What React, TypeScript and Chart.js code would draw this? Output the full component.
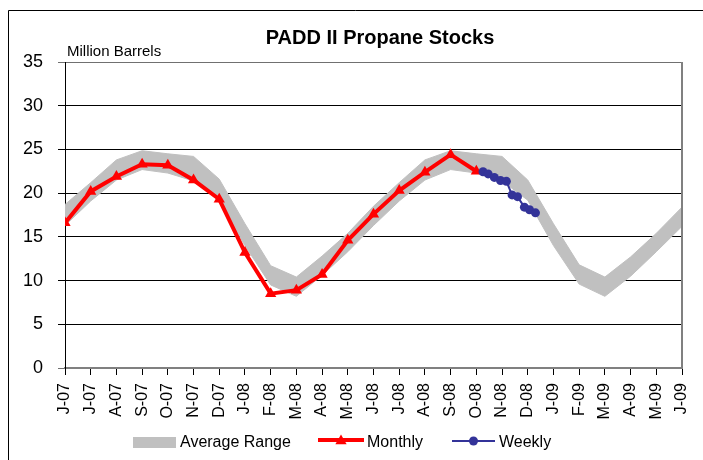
import React, { useEffect, useRef } from 'react';
import { Chart, registerables } from 'chart.js';

Chart.register(...registerables);

const FONT = '"Liberation Sans", Arial, Helvetica, sans-serif';

const categories = [
  'J-07', 'J-07', 'A-07', 'S-07', 'O-07', 'N-07', 'D-07', 'J-08', 'F-08', 'M-08', 'A-08', 'M-08', 'J-08',
  'J-08', 'A-08', 'S-08', 'O-08', 'N-08', 'D-08', 'J-09', 'F-09', 'M-09', 'A-09', 'M-09', 'J-09',
];

const avgLow = [
  16.3, 19.1, 21.5, 22.7, 22.3, 21.4, 19.2, 14.0, 9.5, 8.2, 10.6, 13.3, 16.3,
  19.1, 21.5, 22.7, 22.3, 21.4, 19.2, 14.0, 9.6, 8.2, 10.5, 13.3, 16.2,
];

const avgHigh = [
  18.7, 21.2, 23.8, 24.85, 24.5, 24.2, 21.6, 16.5, 11.7, 10.4, 12.8, 15.4, 18.5,
  21.2, 23.8, 24.85, 24.5, 24.2, 21.5, 16.5, 11.8, 10.4, 12.7, 15.4, 18.4,
];

const monthlyValues = [16.6, 20.2, 21.9, 23.3, 23.2, 21.5, 19.3, 13.2, 8.5, 8.9, 10.7, 14.6, 17.6, 20.3, 22.4, 24.4, 22.5];

const weeklyPos = [16.26, 16.46, 16.7, 16.94, 17.17, 17.39, 17.6, 17.87, 18.07, 18.3];
const weeklyValues = [22.45, 22.2, 21.8, 21.45, 21.35, 19.8, 19.6, 18.4, 18.1, 17.75];

const titleText = 'PADD II Propane Stocks';
const unitText = 'Million Barrels';
const legendLabels = ['Average Range', 'Monthly', 'Weekly'];

export default function App() {
  const ref = useRef<HTMLCanvasElement>(null);

  useEffect(() => {
    document.body.style.margin = '0';
    document.documentElement.style.overflow = 'hidden';
    const canvas = ref.current;
    if (!canvas) return;
    Chart.defaults.font.family = FONT;
    Chart.defaults.color = '#000';

    const overlay = {
      id: 'overlay',
      beforeDraw(chart: any) {
        const c = chart.ctx as CanvasRenderingContext2D;
        c.save();
        c.fillStyle = '#fff';
        c.fillRect(0, 0, chart.width, chart.height);
        c.strokeStyle = '#000';
        c.lineWidth = 1;
        c.beginPath();
        c.moveTo(0.5, chart.height);
        c.lineTo(0.5, 0.5);
        c.lineTo(chart.width, 0.5);
        c.stroke();
        c.restore();
      },
      afterDraw(chart: any) {
        const c = chart.ctx as CanvasRenderingContext2D;
        const a = chart.chartArea;
        c.save();
        // right plot border
        c.strokeStyle = '#808080';
        c.lineWidth = 2;
        c.beginPath();
        c.moveTo(a.right, a.top);
        c.lineTo(a.right, a.bottom + 1);
        c.stroke();

        // title
        c.fillStyle = '#000';
        c.font = `bold 20px ${FONT}`;
        c.textAlign = 'center';
        c.textBaseline = 'alphabetic';
        c.fillText(titleText, 372, 34);

        // unit label
        c.font = `15px ${FONT}`;
        c.textAlign = 'left';
        c.fillText(unitText, a.left + 2, a.top - 6);

        // legend
        c.font = `16px ${FONT}`;
        c.fillStyle = '#C0C0C0';
        c.fillRect(125, 427, 43, 11);
        c.fillStyle = '#000';
        c.fillText(legendLabels[0], 172, 437);

        c.strokeStyle = '#FF0000';
        c.lineWidth = 4;
        c.beginPath();
        c.moveTo(310, 430);
        c.lineTo(356, 430);
        c.stroke();
        const r = 6.5;
        const tx = 333;
        const ty = 431;
        c.fillStyle = '#FF0000';
        c.beginPath();
        c.moveTo(tx, ty - r);
        c.lineTo(tx + r * 0.866, ty + r / 2);
        c.lineTo(tx - r * 0.866, ty + r / 2);
        c.closePath();
        c.fill();
        c.fillStyle = '#000';
        c.fillText(legendLabels[1], 359, 437);

        c.strokeStyle = '#333399';
        c.lineWidth = 2;
        c.beginPath();
        c.moveTo(444, 431);
        c.lineTo(487, 431);
        c.stroke();
        c.fillStyle = '#333399';
        c.beginPath();
        c.arc(465.5, 431, 4.5, 0, Math.PI * 2);
        c.fill();
        c.fillStyle = '#000';
        c.fillText(legendLabels[2], 491, 437);
        c.restore();
      },
    };

    const chart = new Chart(canvas, {
      type: 'line',
      data: {
        datasets: [
          {
            label: 'Average Low',
            data: avgLow.map((v, i) => ({ x: i, y: v })),
            borderColor: '#C0C0C0',
            borderWidth: 1,
            pointRadius: 0,
            fill: false,
            order: 4,
          },
          {
            label: 'Average Range',
            data: avgHigh.map((v, i) => ({ x: i, y: v })),
            borderColor: '#C0C0C0',
            backgroundColor: '#C0C0C0',
            borderWidth: 1,
            pointRadius: 0,
            fill: '-1',
            order: 3,
          },
          {
            label: 'Monthly',
            data: monthlyValues.map((v, i) => ({ x: i, y: v })),
            borderColor: '#FF0000',
            backgroundColor: '#FF0000',
            borderWidth: 4,
            pointStyle: 'triangle',
            pointRadius: 6.5,
            pointBorderWidth: 0,
            fill: false,
            order: 2,
          },
          {
            label: 'Weekly',
            data: weeklyPos.map((x, i) => ({ x, y: weeklyValues[i] })),
            borderColor: '#333399',
            backgroundColor: '#333399',
            borderWidth: 2,
            pointRadius: 4.5,
            pointBorderWidth: 0,
            fill: false,
            order: 1,
          },
        ],
      },
      options: {
        animation: false,
        responsive: false,
        devicePixelRatio: 1,
        layout: { padding: { top: 52, right: 21, left: 0, bottom: 0 } },
        plugins: {
          legend: { display: false },
          title: { display: false },
          tooltip: { enabled: false },
        },
        scales: {
          x: {
            type: 'linear',
            min: 0,
            max: categories.length - 1,
            afterBuildTicks: (s: any) => {
              s.ticks = categories.map((_, i) => ({ value: i }));
            },
            afterFit: (s: any) => {
              s.height = 92;
              s.paddingLeft = 0;
              s.paddingRight = 0;
            },
            ticks: {
              autoSkip: false,
              minRotation: 90,
              maxRotation: 90,
              padding: 8,
              font: { size: 16, family: FONT },
              color: '#000',
              callback: (v: any) => categories[Math.round(Number(v))],
            },
            grid: { drawOnChartArea: false, drawTicks: true, tickLength: 7, color: '#000' },
            border: { display: true, color: '#808080', width: 2 },
          },
          y: {
            min: 0,
            max: 35,
            afterFit: (s: any) => {
              s.width = 57;
              s.paddingTop = 0;
              s.paddingBottom = 0;
            },
            ticks: { stepSize: 5, padding: 15, font: { size: 18, family: FONT }, color: '#000' },
            grid: {
              color: (ctx: any) => (ctx.tick && (ctx.tick.value === 0 || ctx.tick.value === 35) ? '#707070' : '#000'),
              tickLength: 7,
            },
            border: { display: true, color: '#000', width: 1 },
          },
        },
      },
      plugins: [overlay],
    } as any);

    return () => chart.destroy();
  }, []);

  return (
    <div style={{ position: 'absolute', left: 8, top: 10, width: 695, height: 450 }}>
      <canvas ref={ref} width={695} height={450} style={{ display: 'block' }} />
    </div>
  );
}
